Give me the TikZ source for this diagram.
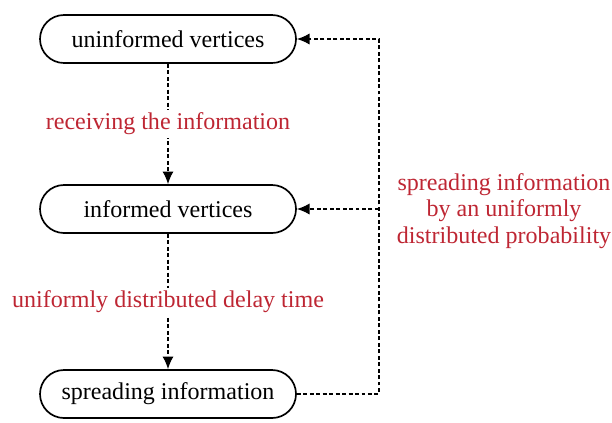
\documentclass[tikz,border=0pt]{standalone}
\usepackage{fontspec}
\setmainfont{Liberation Serif}
\usetikzlibrary{calc}
\usetikzlibrary{arrows.meta}

\definecolor{labelred}{RGB}{190,38,51}

\begin{document}
\begin{tikzpicture}[font=\fontsize{17.1}{18.8}\selectfont]
\tikzstyle{state}=[draw, rectangle, rounded corners=0.6cm, line width=1.2pt, minimum width=6.4cm, minimum height=1.2cm]
\tikzstyle{flow}=[line width=1.2pt, dash pattern=on 2.8pt off 1.8pt, -{Latex[length=9pt,width=8pt]}]
\tikzstyle{lab}=[text=labelred, fill=white, inner sep=2pt]

\useasboundingbox (0,0) rectangle (15.3,10.55);

\node (uninf) at (4.2,9.575) [state] {uninformed vertices};
\node (inf) at (4.2,5.325) [state] {informed vertices};
\node (spread) at (4.2,0.7) [state] {spreading information};

\draw [flow] (uninf.south) -- (inf.north) node[lab, pos=0.5] (recv) {receiving the information};
\draw [flow] (inf.south) -- (spread.north) node[lab, pos=0.5] (delay) {uniformly distributed delay time};

\coordinate (back) at ($(spread.east)+(2.05,0)$);
\coordinate (mid) at (back |- inf.east);

\draw [flow] (spread.east) -- (back) |- (uninf.east);
\draw [flow] (mid) -- (inf.east);

\node (prob) [align=center, text=labelred] at (12.6,5.275) {spreading information\\by an uniformly\\distributed probability};

\end{tikzpicture}
\end{document}
